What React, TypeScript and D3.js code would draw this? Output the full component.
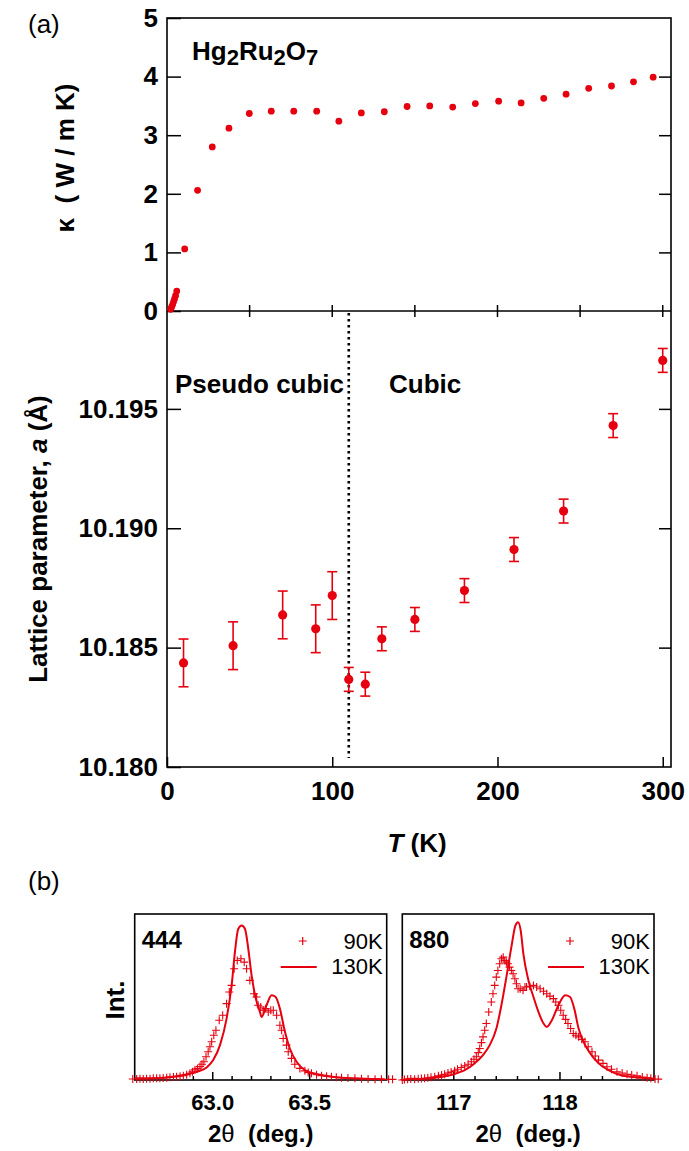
import React, { useEffect, useRef } from "react";
import * as d3 from "d3";

// ---- (a) upper panel: thermal conductivity kappa vs T ----
const kappaT = [2.2, 2.8, 3.4, 4.0, 4.6, 5.2, 5.9, 10.7, 18.5, 27.4, 37.5, 49.8, 63.1, 76.7, 90.6, 104, 117.6, 131.5, 145.3, 159, 172.9, 186.6, 200.7, 214.3, 228, 241.5, 255.2, 269, 282.3, 294.2];
const kappaVal = [0.03, 0.07, 0.11, 0.16, 0.21, 0.26, 0.34, 1.06, 2.06, 2.8, 3.12, 3.37, 3.41, 3.41, 3.41, 3.24, 3.38, 3.4, 3.49, 3.5, 3.48, 3.54, 3.58, 3.55, 3.63, 3.7, 3.8, 3.84, 3.91, 3.99];
const kappaYTicks = [0, 1, 2, 3, 4, 5];
const kappaXTicks = [50, 100, 150, 200, 250, 300];

// ---- (a) lower panel: lattice parameter vs T ----
const latticeT = [10, 40, 70, 90, 100, 110, 120, 130, 150, 180, 210, 240, 270, 300];
const latticeA = [10.18436, 10.18508, 10.18637, 10.18579, 10.18718, 10.18367, 10.18347, 10.18537, 10.18618, 10.18739, 10.18911, 10.19072, 10.1943, 10.19703];
const latticeErr = [0.001, 0.001, 0.001, 0.001, 0.001, 0.0005, 0.0005, 0.0005, 0.0005, 0.0005, 0.0005, 0.0005, 0.0005, 0.0005];
const latticeYTicks = [10.18, 10.185, 10.19, 10.195];
const tempTicks = [0, 100, 200, 300];
const transitionT = 110;

// ---- (b) 444 reflection: [2theta, intensity] ----
const line444: [number, number][] = [
  [62.6, 0.01], [62.747, 0.014], [62.851, 0.03], [62.92, 0.05], [62.971, 0.075], [63.005, 0.12],
  [63.04, 0.21], [63.074, 0.37], [63.1, 0.57], [63.117, 0.77], [63.134, 0.91], [63.152, 0.93],
  [63.169, 0.91], [63.186, 0.79], [63.203, 0.63], [63.225, 0.49], [63.246, 0.41], [63.255, 0.38],
  [63.28, 0.45], [63.306, 0.51], [63.327, 0.5], [63.349, 0.43], [63.375, 0.29], [63.4, 0.19],
  [63.435, 0.11], [63.478, 0.06], [63.564, 0.03], [63.667, 0.014], [63.89, 0.005],
];
const plus444: [number, number][] = [
  [62.59, 0.006], [62.61, 0.006], [62.627, 0.007], [62.644, 0.006], [62.661, 0.008], [62.679, 0.008],
  [62.696, 0.01], [62.713, 0.01], [62.73, 0.011], [62.747, 0.012], [62.765, 0.014], [62.782, 0.016],
  [62.8, 0.018], [62.816, 0.02], [62.834, 0.023], [62.851, 0.026], [62.868, 0.032], [62.885, 0.04],
  [62.898, 0.05], [62.911, 0.061], [62.924, 0.07], [62.937, 0.081], [62.947, 0.095], [62.957, 0.11],
  [62.968, 0.14], [62.979, 0.17], [62.988, 0.2], [62.997, 0.23], [63.008, 0.27], [63.019, 0.3],
  [63.036, 0.36], [63.054, 0.39], [63.074, 0.46], [63.088, 0.53], [63.1, 0.57], [63.113, 0.67],
  [63.129, 0.72], [63.148, 0.73], [63.165, 0.71], [63.177, 0.67], [63.194, 0.6], [63.215, 0.52],
  [63.229, 0.5], [63.237, 0.45], [63.25, 0.44], [63.263, 0.42], [63.276, 0.43], [63.289, 0.41],
  [63.302, 0.42], [63.315, 0.42], [63.332, 0.39], [63.349, 0.33], [63.358, 0.3], [63.366, 0.25],
  [63.383, 0.21], [63.392, 0.17], [63.409, 0.13], [63.426, 0.095], [63.452, 0.07], [63.478, 0.055],
  [63.495, 0.045], [63.512, 0.04], [63.538, 0.032], [63.564, 0.026], [63.59, 0.023], [63.615, 0.02],
  [63.64, 0.017], [63.667, 0.014], [63.7, 0.012], [63.736, 0.01], [63.77, 0.008], [63.804, 0.006],
  [63.84, 0.005], [63.873, 0.004], [63.91, 0.004], [63.93, 0.004],
];
const ticks444Major = [63.0, 63.5];
const ticks444Minor = [62.9, 63.1, 63.2, 63.3, 63.4];

// ---- (b) 880 reflection: [2theta, intensity] ----
const line880: [number, number][] = [
  [116.523, 0.0], [116.6, 0.008], [116.7, 0.006], [116.79, 0.01], [116.88, 0.018], [116.98, 0.03],
  [117.05, 0.045], [117.108, 0.06], [117.2, 0.1], [117.28, 0.15], [117.343, 0.21], [117.406, 0.31],
  [117.453, 0.45], [117.5, 0.62], [117.547, 0.8], [117.585, 0.93], [117.61, 0.95], [117.635, 0.9],
  [117.66, 0.76], [117.708, 0.6], [117.755, 0.5], [117.802, 0.41], [117.85, 0.34], [117.88, 0.32],
  [117.928, 0.36], [117.99, 0.45], [118.054, 0.51], [118.1, 0.5], [118.139, 0.43], [118.18, 0.31],
  [118.226, 0.23], [118.29, 0.16], [118.368, 0.1], [118.462, 0.06], [118.573, 0.03], [118.73, 0.015],
  [118.8, 0.012], [118.887, 0.007],
];
const plus880: [number, number][] = [
  [116.52, 0.0], [116.54, 0.003], [116.57, 0.004], [116.6, 0.006], [116.636, 0.005], [116.67, 0.008],
  [116.7, 0.009], [116.73, 0.01], [116.76, 0.014], [116.79, 0.016], [116.825, 0.02], [116.86, 0.025],
  [116.89, 0.03], [116.919, 0.035], [116.95, 0.042], [116.98, 0.048], [117.013, 0.055], [117.04, 0.065],
  [117.075, 0.075], [117.108, 0.085], [117.14, 0.095], [117.17, 0.11], [117.195, 0.125], [117.217, 0.14],
  [117.235, 0.165], [117.249, 0.19], [117.265, 0.225], [117.28, 0.26], [117.296, 0.3], [117.311, 0.34],
  [117.334, 0.41], [117.358, 0.47], [117.374, 0.52], [117.39, 0.57], [117.405, 0.62], [117.42, 0.66],
  [117.437, 0.7], [117.453, 0.73], [117.47, 0.74], [117.485, 0.72], [117.5, 0.71], [117.516, 0.7],
  [117.53, 0.68], [117.547, 0.66], [117.563, 0.64], [117.58, 0.61], [117.595, 0.58], [117.61, 0.55],
  [117.63, 0.55], [117.657, 0.54], [117.675, 0.56], [117.69, 0.56], [117.72, 0.565], [117.755, 0.57],
  [117.785, 0.56], [117.818, 0.55], [117.85, 0.535], [117.88, 0.52], [117.91, 0.505], [117.943, 0.49],
  [117.965, 0.47], [117.99, 0.45], [118.012, 0.42], [118.035, 0.39], [118.058, 0.365], [118.08, 0.34],
  [118.105, 0.31], [118.13, 0.28], [118.155, 0.27], [118.18, 0.26], [118.21, 0.245], [118.24, 0.23],
  [118.27, 0.2], [118.306, 0.17], [118.337, 0.145], [118.368, 0.12], [118.41, 0.1], [118.447, 0.08],
  [118.49, 0.065], [118.541, 0.05], [118.59, 0.042], [118.636, 0.035], [118.68, 0.03], [118.73, 0.025],
  [118.78, 0.018], [118.825, 0.014], [118.86, 0.01], [118.9, 0.006], [118.93, 0.005],
];
const ticks880Major = [117, 118];
const ticks880Minor = [117.2, 117.4, 117.6, 117.8, 118.2, 118.4];

const RED = "#e6000f";
const FONT = "'Liberation Sans', Arial, Helvetica, sans-serif";

const App: React.FC = () => {
  const svgRef = useRef<SVGSVGElement>(null);

  useEffect(() => {
    if (!svgRef.current) return;
    const svg = d3.select(svgRef.current);
    svg.selectAll("*").remove();

    const styleAxis = (g: any, size: number) => {
      g.select(".domain").remove();
      g.attr("font-family", FONT).attr("font-size", size).attr("font-weight", "bold");
      g.selectAll("line").attr("stroke", "#000").attr("stroke-width", 1.5);
      g.selectAll("text").attr("fill", "#000");
    };

    const addText = (x: number, y: number, txt: string, size: number, opts: any = {}) =>
      svg.append("text")
        .attr("x", x)
        .attr("y", y)
        .attr("font-family", FONT)
        .attr("font-size", size)
        .attr("font-weight", opts.weight ?? "bold")
        .attr("text-anchor", opts.anchor ?? "start")
        .attr("fill", "#000")
        .text(txt);

    // ===== panel (a) =====
    const left = 167, right = 671, top = 18, mid = 311, bottom = 767;
    const xT = d3.scaleLinear().domain([0, 305]).range([left, right]);
    const yK = d3.scaleLinear().domain([0, 5]).range([mid, top]);
    const yA = d3.scaleLinear().domain([10.18, 10.1991]).range([bottom, mid]);

    // frame
    svg.append("rect")
      .attr("x", left).attr("y", top)
      .attr("width", right - left).attr("height", bottom - top)
      .attr("fill", "none").attr("stroke", "#000").attr("stroke-width", 1.6);
    svg.append("line")
      .attr("x1", left).attr("x2", right).attr("y1", mid).attr("y2", mid)
      .attr("stroke", "#000").attr("stroke-width", 1.6);

    // kappa axes
    const gKL = svg.append("g").attr("transform", `translate(${left},0)`)
      .call(d3.axisLeft(yK).tickValues(kappaYTicks).tickSize(-14).tickPadding(9).tickFormat(d3.format("d")) as any);
    styleAxis(gKL, 26);
    const gKR = svg.append("g").attr("transform", `translate(${right},0)`)
      .call(d3.axisRight(yK).tickValues([1, 2, 3, 4]).tickSize(-12).tickFormat(() => "") as any);
    styleAxis(gKR, 26);

    // shared T ticks crossing the middle axis
    svg.append("g").selectAll("line").data(kappaXTicks).enter().append("line")
      .attr("x1", d => xT(d)).attr("x2", d => xT(d))
      .attr("y1", mid - 6).attr("y2", mid + 6)
      .attr("stroke", "#000").attr("stroke-width", 1.5);

    // lattice axes
    const gAL = svg.append("g").attr("transform", `translate(${left},0)`)
      .call(d3.axisLeft(yA).tickValues(latticeYTicks).tickSize(-14).tickPadding(9).tickFormat(d3.format(".3f")) as any);
    styleAxis(gAL, 26);
    const gAR = svg.append("g").attr("transform", `translate(${right},0)`)
      .call(d3.axisRight(yA).tickValues(latticeYTicks.slice(1)).tickSize(-12).tickFormat(() => "") as any);
    styleAxis(gAR, 26);
    const gAB = svg.append("g").attr("transform", `translate(0,${bottom})`)
      .call(d3.axisBottom(xT).tickValues(tempTicks).tickSize(-10).tickPadding(15).tickFormat(d3.format("d")) as any);
    styleAxis(gAB, 26);

    // kappa points
    svg.append("g").selectAll("circle").data(kappaT).enter().append("circle")
      .attr("cx", d => xT(d)).attr("cy", (_, i) => yK(kappaVal[i]))
      .attr("r", 3.4).attr("fill", RED);

    // transition line
    svg.append("line")
      .attr("x1", xT(transitionT)).attr("x2", xT(transitionT))
      .attr("y1", mid + 2).attr("y2", 758)
      .attr("stroke", "#000").attr("stroke-width", 2.6).attr("stroke-dasharray", "2.4,3.6");

    // lattice points with error bars
    const gErr = svg.append("g");
    latticeT.forEach((t, i) => {
      const x = xT(t);
      const y1 = yA(latticeA[i] + latticeErr[i]);
      const y2 = yA(latticeA[i] - latticeErr[i]);
      gErr.append("line").attr("x1", x).attr("x2", x).attr("y1", y1).attr("y2", y2)
        .attr("stroke", RED).attr("stroke-width", 1.6);
      [y1, y2].forEach(yy => {
        gErr.append("line").attr("x1", x - 5).attr("x2", x + 5).attr("y1", yy).attr("y2", yy)
          .attr("stroke", RED).attr("stroke-width", 1.6);
      });
      gErr.append("circle").attr("cx", x).attr("cy", yA(latticeA[i])).attr("r", 4.6).attr("fill", RED);
    });

    // labels for (a)
    addText(28, 33, "(a)", 26, { weight: "normal" });
    const hg = addText(192, 60, "", 26);
    hg.append("tspan").text("Hg");
    hg.append("tspan").attr("dy", 5).attr("font-size", 22).text("2");
    hg.append("tspan").attr("dy", -5).text("Ru");
    hg.append("tspan").attr("dy", 5).attr("font-size", 22).text("2");
    hg.append("tspan").attr("dy", -5).text("O");
    hg.append("tspan").attr("dy", 5).attr("font-size", 22).text("7");

    addText(175, 393, "Pseudo cubic", 26);
    addText(389, 393, "Cubic", 26);

    svg.append("text")
      .attr("transform", "translate(74,158) rotate(-90)")
      .attr("text-anchor", "middle")
      .attr("font-family", FONT).attr("font-size", 26).attr("font-weight", "bold")
      .attr("xml:space", "preserve")
      .text("\u03ba  ( W / m K)");

    const latLabel = svg.append("text")
      .attr("transform", "translate(47,539) rotate(-90)")
      .attr("text-anchor", "middle")
      .attr("font-family", FONT).attr("font-size", 26).attr("font-weight", "bold");
    latLabel.append("tspan").text("Lattice parameter, ");
    latLabel.append("tspan").attr("font-style", "italic").text("a");
    latLabel.append("tspan").text(" (\u00c5)");

    const tLabel = addText(417, 852, "", 26, { anchor: "middle" });
    tLabel.append("tspan").attr("font-style", "italic").text("T");
    tLabel.append("tspan").text(" (K)");

    // ===== panel (b) =====
    addText(28, 890, "(b)", 26, { weight: "normal" });
    const yI = d3.scaleLinear().domain([0, 1]).range([1080, 914]);

    const drawXrd = (
      x0: number, x1: number, domain: [number, number],
      lineData: [number, number][], plusData: [number, number][],
      major: number[], minor: number[], fmt: string, hkl: string,
    ) => {
      const x = d3.scaleLinear().domain(domain).range([x0, x1]);
      const g = svg.append("g");

      g.append("rect")
        .attr("x", x0).attr("y", yI(1))
        .attr("width", x1 - x0).attr("height", yI(0) - yI(1))
        .attr("fill", "none").attr("stroke", "#000").attr("stroke-width", 1.6);

      const gMaj = g.append("g").attr("transform", `translate(0,${yI(0)})`)
        .call(d3.axisBottom(x).tickValues(major).tickSize(-8).tickPadding(14).tickFormat(d3.format(fmt)) as any);
      styleAxis(gMaj, 22);
      const gMin = g.append("g").attr("transform", `translate(0,${yI(0)})`)
        .call(d3.axisBottom(x).tickValues(minor).tickSize(-4).tickFormat(() => "") as any);
      styleAxis(gMin, 22);

      // 90K crosses
      g.append("path")
        .attr("d", plusData.map(([a, b]) => {
          const px = x(a), py = yI(b);
          return `M${px - 4},${py}h8M${px},${py - 4}v8`;
        }).join(""))
        .attr("stroke", RED).attr("stroke-width", 1.1).attr("fill", "none");

      // 130K line
      const ln = d3.line<[number, number]>()
        .x(d => x(d[0])).y(d => yI(d[1]))
        .curve(d3.curveMonotoneX);
      g.append("path").datum(lineData)
        .attr("d", ln)
        .attr("fill", "none").attr("stroke", RED).attr("stroke-width", 2);

      // hkl label and legend
      addText(x0 + 7, 948, hkl, 24);
      const lx = x1 - 4;
      g.append("path")
        .attr("d", `M${lx - 84},${941}h8M${lx - 80},${937}v8`)
        .attr("stroke", RED).attr("stroke-width", 1.2);
      addText(lx, 949, "90K", 22, { weight: "normal", anchor: "end" });
      g.append("line")
        .attr("x1", lx - 102).attr("x2", lx - 66).attr("y1", 967).attr("y2", 967)
        .attr("stroke", RED).attr("stroke-width", 2);
      addText(lx, 974, "130K", 22, { weight: "normal", anchor: "end" });

      const title = addText((x0 + x1) / 2, 1142, "", 24, { anchor: "middle" });
      title.attr("xml:space", "preserve");
      title.append("tspan").text("2");
      title.append("tspan").attr("font-weight", "normal").text("\u03b8");
      title.append("tspan").text("  (deg.)");
    };

    drawXrd(134.7, 386.7, [62.6, 63.9], line444, plus444, ticks444Major, ticks444Minor, ".1f", "444");
    drawXrd(402.3, 654, [116.52, 118.89], line880, plus880, ticks880Major, ticks880Minor, "d", "880");

    svg.append("text")
      .attr("transform", "translate(124,1000) rotate(-90)")
      .attr("text-anchor", "middle")
      .attr("font-family", FONT).attr("font-size", 26).attr("font-weight", "bold")
      .text("Int.");
  }, []);

  return (
    <svg
      ref={svgRef}
      width={689}
      height={1151}
      style={{ position: "absolute", left: 0, top: 0, background: "white", display: "block" }}
    />
  );
};

export default App;
